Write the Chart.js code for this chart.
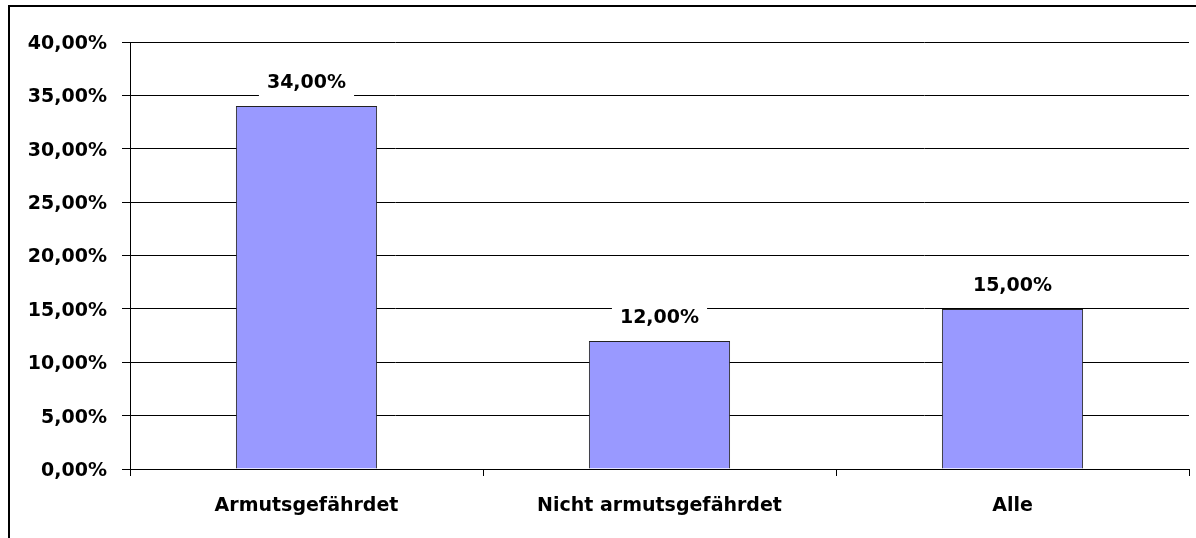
<!DOCTYPE html>
<html>
<head>
<meta charset="utf-8">
<script src="https://cdn.jsdelivr.net/npm/chart.js@4"></script>
<style>
  html, body { margin: 0; padding: 0; background: #fff; overflow: hidden; }
  .frame { position: absolute; left: 8px; top: 5px; width: 1200px; height: 600px; border: 2px solid #000; }
  #chart { position: absolute; left: 0; top: 0; }
</style>
</head>
<body>
<div class="frame"></div>
<canvas id="chart" width="1196" height="538"></canvas>
<script>
const categories = ["Armutsgefährdet", "Nicht armutsgefährdet", "Alle"];
const shares = [34, 12, 15];
const yTicks = [0, 5, 10, 15, 20, 25, 30, 35, 40];

const fontFamily = "'DejaVu Sans', 'Liberation Sans', Arial, sans-serif";
const fmt = (v) => v.toFixed(2).replace(".", ",") + "%";

// Werte über den Balken mit weißem Hintergrund
const valueLabels = {
  id: "valueLabels",
  afterDatasetsDraw(chart) {
    const ctx = chart.ctx;
    const meta = chart.getDatasetMeta(0);
    ctx.save();
    ctx.font = "bold 19px " + fontFamily;
    ctx.textAlign = "center";
    ctx.textBaseline = "middle";
    meta.data.forEach((bar, i) => {
      const text = fmt(shares[i]);
      const w = ctx.measureText(text).width;
      const cy = bar.y - 23;
      ctx.fillStyle = "#fff";
      ctx.fillRect(bar.x - w / 2 - 8, cy - 14, w + 16, 30);
      ctx.fillStyle = "#000";
      ctx.fillText(text, bar.x, cy);
    });
    ctx.restore();
  },
};

new Chart(document.getElementById("chart"), {
  type: "bar",
  data: {
    labels: categories,
    datasets: [
      {
        data: shares,
        backgroundColor: "#9999FF",
        borderColor: "#222",
        borderWidth: 1,
        barPercentage: 0.4,
        categoryPercentage: 1,
      },
    ],
  },
  options: {
    responsive: false,
    animation: false,
    devicePixelRatio: 1,
    layout: { padding: { top: 42, right: 7, left: 0, bottom: 0 } },
    plugins: { legend: { display: false }, tooltip: { enabled: false } },
    scales: {
      x: {
        grid: { drawOnChartArea: false, drawTicks: true, tickLength: 7, color: "#000" },
        border: { display: true, color: "#000", width: 1 },
        ticks: { color: "#000", padding: 19, font: { family: fontFamily, size: 19, weight: "bold" } },
        afterFit: (scale) => { scale.height = 69; },
      },
      y: {
        min: yTicks[0],
        max: yTicks[yTicks.length - 1],
        afterBuildTicks: (scale) => { scale.ticks = yTicks.map((v) => ({ value: v })); },
        grid: { color: "#000", lineWidth: 1, tickLength: 8 },
        border: { display: true, color: "#000", width: 1 },
        ticks: {
          color: "#000",
          padding: 15,
          labelOffset: 2,
          font: { family: fontFamily, size: 19, weight: "bold" },
          callback: (v) => fmt(v),
        },
        afterFit: (scale) => { scale.width = 130; },
      },
    },
  },
  plugins: [valueLabels],
});
</script>
</body>
</html>
